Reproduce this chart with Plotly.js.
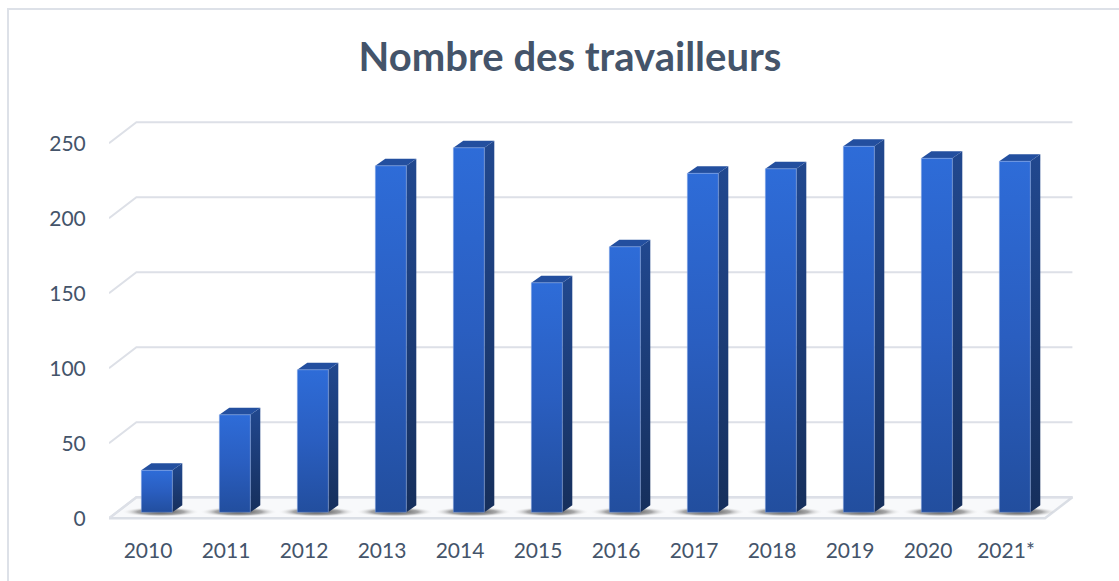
<!DOCTYPE html>
<html>
<head>
<meta charset="utf-8">
<script src="https://cdn.plot.ly/plotly-3.0.1.min.js"></script>
<style>
  html, body { margin: 0; padding: 0; background: #ffffff; }
  #wrap { position: relative; width: 1119px; height: 581px; overflow: hidden; }
  #chart { position: absolute; left: 0; top: 0; width: 1119px; height: 581px; }
  #frame { position: absolute; left: 7px; top: 8px; width: 1300px; height: 800px;
           border-left: 2px solid #dde1e8; border-top: 2px solid #dde1e8; pointer-events: none; }
</style>
</head>
<body>
<div id="wrap"><div id="chart"></div><div id="frame"></div></div>
<script>
// ---- data ----
const years = ['2010', '2011', '2012', '2013', '2014', '2015', '2016', '2017', '2018', '2019', '2020', '2021*'];
const workers = [28, 65, 95, 231, 243, 153, 177, 226, 229, 244, 236, 234];
const yTicks = [0, 50, 100, 150, 200, 250];
const chartTitle = 'Nombre des travailleurs';

// ---- 3D projection styling (in axis units) ----
const PXX = 78;          // px per category
const PXY = 1.5;         // px per value unit
const DX = 27.4 / PXX, DY = 21 / PXY;      // full depth of the floor / walls
const FX = 8.8 / PXX,  FY = 6 / PXY;       // bar front face offset into depth
const BW = 31 / PXX;                        // bar width
const SX = 10 / PXX,   SY = 7 / PXY;       // bar depth
const X0 = -0.5, X1 = years.length - 0.5;

const traces = [];
function poly(xs, ys, opts) {
  traces.push(Object.assign({
    type: 'scatter', mode: 'lines', x: xs.concat([xs[0]]), y: ys.concat([ys[0]]),
    fill: 'toself', hoverinfo: 'skip', showlegend: false
  }, opts));
}

// floor
poly([X0, X1, X1 + DX, X0 + DX], [0, 0, DY, DY],
     {fillcolor: '#f8f9fb', line: {color: '#dadee5', width: 2.5}});

// gridlines: left wall diagonals + back wall
const gx = [], gy = [];
yTicks.forEach(v => {
  gx.push(X0, X0 + DX, X1 + DX, null);
  gy.push(v, v + DY, v + DY, null);
});
traces.push({type: 'scatter', mode: 'lines', x: gx, y: gy, hoverinfo: 'skip', showlegend: false,
             line: {color: '#dde0e7', width: 2}});

// shadows
years.forEach((c, i) => {
  const cx = i + FX + 0.05, cy = FY + 0.3, rx = 0.5, ry = 3.4;
  const xs = [], ys = [];
  for (let k = 0; k < 40; k++) {
    const a = 2 * Math.PI * k / 40;
    xs.push(cx + rx * Math.cos(a)); ys.push(cy + ry * Math.sin(a));
  }
  poly(xs, ys, {line: {width: 0, color: 'rgba(0,0,0,0)'},
    fillgradient: {type: 'radial', colorscale: [[0, 'rgba(50,50,50,0.95)'], [0.6, 'rgba(100,100,100,0.55)'], [1, 'rgba(255,255,255,0)']]}});
});

// bars
workers.forEach((v, i) => {
  const xl = i + FX - BW / 2, xr = i + FX + BW / 2;
  const yb = FY, yt = FY + v;
  // side
  poly([xr, xr + SX, xr + SX, xr], [yb, yb + SY, yt + SY, yt],
       {line: {color: 'rgba(0,0,0,0)', width: 0},
        fillgradient: {type: 'vertical', colorscale: [[0, '#162f5c'], [1, '#21488f']]}});
  // top
  poly([xl, xr, xr + SX, xl + SX], [yt, yt, yt + SY, yt + SY],
       {line: {color: 'rgba(0,0,0,0)', width: 0}, fillcolor: '#234f9f'});
  // front
  poly([xl, xr, xr, xl], [yb, yb, yt, yt],
       {line: {color: 'rgba(150,180,235,0.55)', width: 0.8},
        fillgradient: {type: 'vertical', colorscale: [[0, '#224e9e'], [0.5, '#2a5ec0'], [1, '#2e6cd8']]}});
});

const W = 1119, H = 581;
const mL = 109, mR = 44, mT = 100, mB = 51;
const plotW = W - mL - mR, plotH = H - mT - mB;
const y0px = 518.3;   // where value 0 sits on the front plane

const layout = {
  width: W, height: H,
  margin: {l: mL, r: mR, t: mT, b: mB, pad: 0},
  paper_bgcolor: 'rgba(0,0,0,0)', plot_bgcolor: 'rgba(0,0,0,0)',
  showlegend: false, hovermode: false,
  font: {family: 'Lato, "Open Sans", sans-serif', color: '#44546a'},
  title: {text: '<b>' + chartTitle + '</b>', font: {family: 'Lato, "Open Sans", sans-serif', size: 40, color: '#44546a'},
          xref: 'container', yref: 'container', x: 570 / W, xanchor: 'center', y: 1 - 57 / H, yanchor: 'middle'},
  xaxis: {range: [X0, X0 + plotW / PXX], tickvals: years.map((c, i) => i), ticktext: years,
          showgrid: false, zeroline: false, showline: false,
          ticks: 'outside', ticklen: 2, tickcolor: 'rgba(0,0,0,0)',
          tickfont: {size: 21, color: '#44546a'}, fixedrange: true},
  yaxis: {range: [(y0px - (mT + plotH)) / PXY, (y0px - mT) / PXY], tickvals: yTicks,
          showgrid: false, zeroline: false, showline: false,
          ticks: 'outside', ticklen: 18, tickcolor: 'rgba(0,0,0,0)',
          tickfont: {size: 21, color: '#44546a'}, fixedrange: true}
};

Plotly.newPlot('chart', traces, layout, {displayModeBar: false, staticPlot: true});
</script>
</body>
</html>
